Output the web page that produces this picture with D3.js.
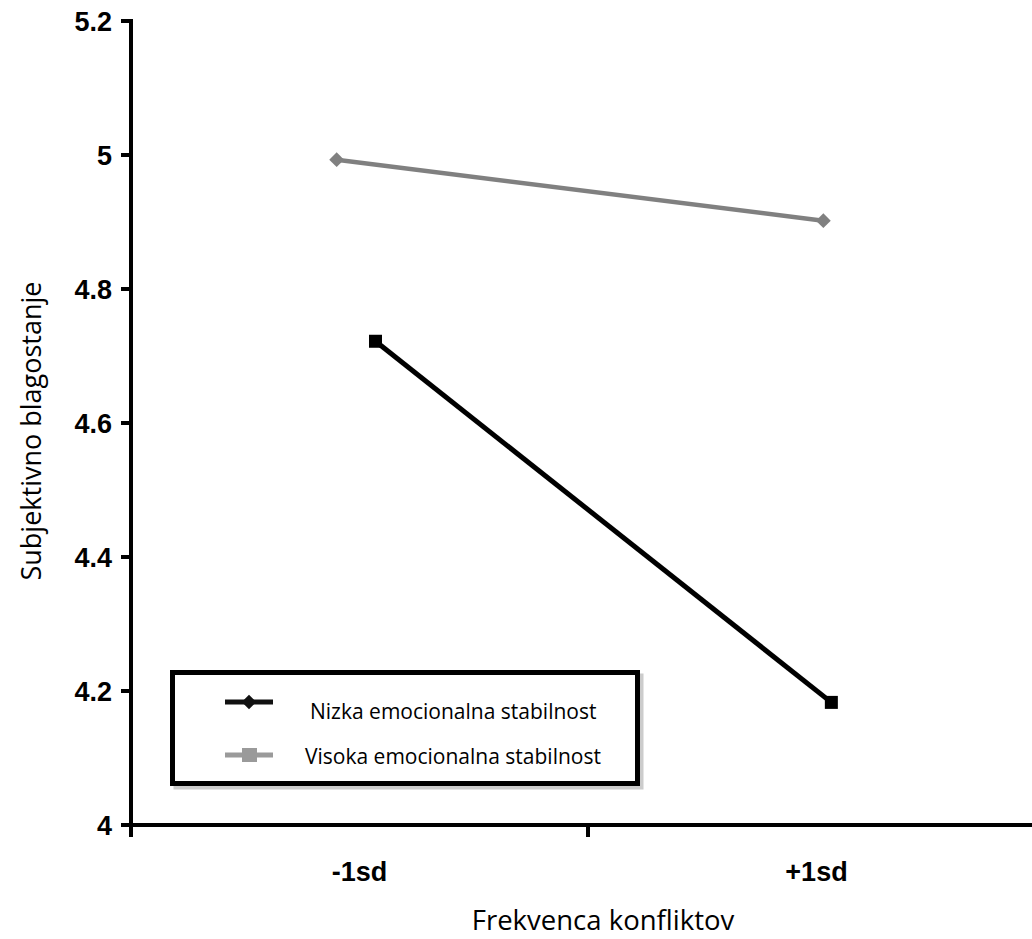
<!DOCTYPE html>
<meta charset="utf-8">
<script src="https://d3js.org/d3.v7.min.js"></script>
<style>
  body { margin: 0; background: #fff; }
</style>
<div id="chart"></div>
<script>

// data
var categories = ["-1sd", "+1sd"];
var catPos = [-1, 1];
var seriesNames = ["Nizka emocionalna stabilnost", "Visoka emocionalna stabilnost"];
var lowX = [-0.93, 1.065];
var lowY = [4.722, 4.183];
var highX = [-1.10, 1.03];
var highY = [4.993, 4.902];
var yTicks = [4, 4.2, 4.4, 4.6, 4.8, 5, 5.2];

var width = 1032, height = 939;
var svg = d3.select("#chart").append("svg")
  .attr("width", width).attr("height", height);

var x = d3.scaleLinear().domain([-2, 2]).range([131, 1045]);
var y = d3.scaleLinear().domain([4, 5.2]).range([825, 21]);

var tickFont = "bold 27px 'Liberation Sans', Arial, sans-serif";

// y axis
svg.append("line")
  .attr("x1", x(-2)).attr("x2", x(-2))
  .attr("y1", y(5.2) - 2).attr("y2", y(4) + 12)
  .attr("stroke", "#000").attr("stroke-width", 4);
svg.selectAll(".ytick").data(yTicks).enter().append("line")
  .attr("x1", x(-2) - 10).attr("x2", x(-2))
  .attr("y1", function(d) { return y(d); })
  .attr("y2", function(d) { return y(d); })
  .attr("stroke", "#000").attr("stroke-width", 4);
svg.selectAll(".ylab").data(yTicks).enter().append("text")
  .attr("x", 112)
  .attr("y", function(d) { return y(d) + 9.5; })
  .attr("text-anchor", "end")
  .style("font", tickFont)
  .text(function(d) { return d3.format("")(d); });

// x axis
svg.append("line")
  .attr("x1", x(-2) - 2).attr("x2", width)
  .attr("y1", y(4)).attr("y2", y(4))
  .attr("stroke", "#000").attr("stroke-width", 4);
svg.append("line")
  .attr("x1", x(0)).attr("x2", x(0))
  .attr("y1", y(4)).attr("y2", y(4) + 12)
  .attr("stroke", "#000").attr("stroke-width", 4);
svg.selectAll(".xlab").data(categories).enter().append("text")
  .attr("x", function(d, i) { return x(catPos[i]); })
  .attr("y", 881)
  .attr("text-anchor", "middle")
  .style("font", tickFont)
  .text(function(d) { return d; });

// titles
svg.append("text")
  .attr("x", 603).attr("y", 930)
  .attr("text-anchor", "middle")
  .style("font", "27.5px 'Open Sans', sans-serif")
  .text("Frekvenca konfliktov");
svg.append("text")
  .attr("transform", "translate(41,431) rotate(-90)")
  .attr("text-anchor", "middle")
  .style("font", "27px 'Open Sans', sans-serif")
  .text("Subjektivno blagostanje");

// lines
var line = d3.line()
  .x(function(d) { return x(d[0]); })
  .y(function(d) { return y(d[1]); });

var high = d3.zip(highX, highY);
var low = d3.zip(lowX, lowY);

svg.append("path").datum(high)
  .attr("d", line).attr("fill", "none")
  .attr("stroke", "#808080").attr("stroke-width", 4.5);
svg.selectAll(".hpt").data(high).enter().append("path")
  .attr("d", d3.symbol(d3.symbolSquare, 110))
  .attr("transform", function(d) { return "translate(" + x(d[0]) + "," + y(d[1]) + ") rotate(45)"; })
  .attr("fill", "#808080");

svg.append("path").datum(low)
  .attr("d", line).attr("fill", "none")
  .attr("stroke", "#000").attr("stroke-width", 5);
svg.selectAll(".lpt").data(low).enter().append("rect")
  .attr("x", function(d) { return x(d[0]) - 6.5; })
  .attr("y", function(d) { return y(d[1]) - 6.5; })
  .attr("width", 13).attr("height", 13)
  .attr("fill", "#000");

// legend
var lg = svg.append("g");
lg.append("rect")
  .attr("x", 176).attr("y", 676).attr("width", 465).attr("height", 111)
  .attr("fill", "none").attr("stroke", "#aaa").attr("stroke-width", 5).attr("opacity", 0.6);
lg.append("rect")
  .attr("x", 172.5).attr("y", 672.5).attr("width", 465).attr("height", 111)
  .attr("fill", "#fff").attr("stroke", "#000").attr("stroke-width", 5);

var legendRows = [
  { name: seriesNames[0], color: "#111", marker: "diamond", y: 702, tx: 310, ty: 719 },
  { name: seriesNames[1], color: "#9a9a9a", marker: "square", y: 755, tx: 305, ty: 764 }
];
legendRows.forEach(function(r) {
  lg.append("line")
    .attr("x1", 225).attr("x2", 273)
    .attr("y1", r.y).attr("y2", r.y)
    .attr("stroke", r.color).attr("stroke-width", 5);
  if (r.marker === "diamond") {
    lg.append("path")
      .attr("d", d3.symbol(d3.symbolSquare, 105))
      .attr("transform", "translate(249," + r.y + ") rotate(45)")
      .attr("fill", r.color);
  } else {
    lg.append("rect")
      .attr("x", 242).attr("y", r.y - 7).attr("width", 15).attr("height", 14)
      .attr("fill", r.color);
  }
  lg.append("text")
    .attr("x", r.tx).attr("y", r.ty)
    .style("font", "21px 'Open Sans', sans-serif")
    .text(r.name);
});

</script>
